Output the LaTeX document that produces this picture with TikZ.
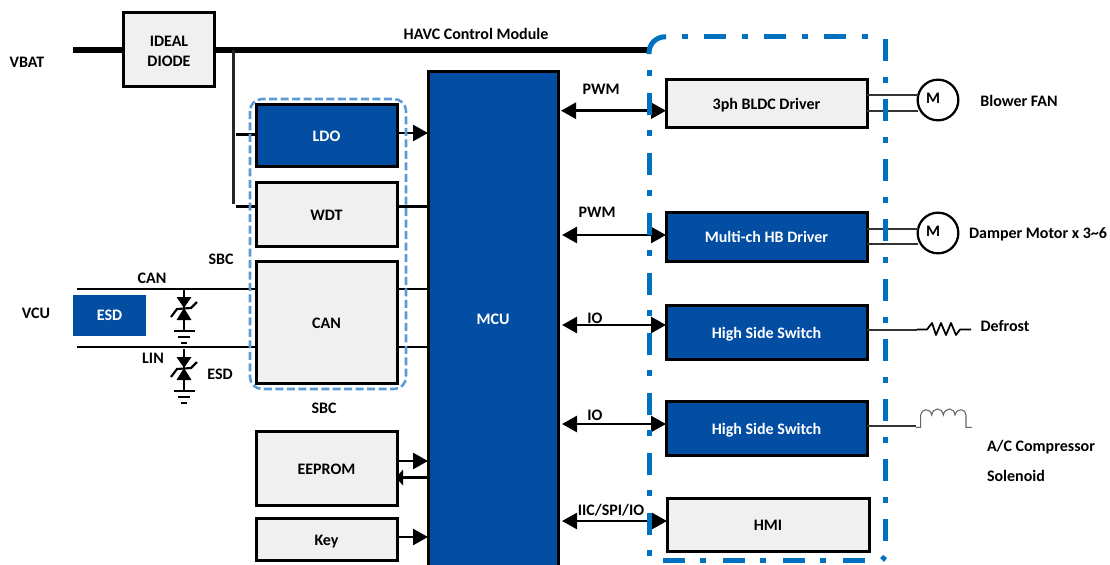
\documentclass[tikz,border=0pt]{standalone}
\usepackage{fontspec}
\setmainfont{Carlito}
\usetikzlibrary{arrows.meta}
\definecolor{bluebox}{HTML}{034EA2}
\definecolor{greybox}{HTML}{F0F0F0}
\definecolor{frameblue}{HTML}{0070C0}
\definecolor{sbcblue}{HTML}{5B9BD5}
\tikzset{
  x=0.75pt,y=-0.75pt,
  every node/.style={font=\fontsize{12}{14}\selectfont\bfseries,inner sep=0pt,outer sep=0pt},
  greyblock/.style={draw=black,line width=2.25pt,fill=greybox,text=black,align=center},
  blueblock/.style={draw=black,line width=2.25pt,fill=bluebox,text=white,align=center},
  lowtext/.style={text height=9.5pt,text depth=0pt},
  txt/.style={text=black},
  wire/.style={line width=1.9pt,black},
  thinwire/.style={line width=1.5pt,black!80},
  bus/.style={line width=3.8pt,black},
  tip/.style={-{Triangle[length=11.25pt,width=12pt]},line width=1.9pt,black},
  biarrow/.style={{Triangle[length=11.25pt,width=12pt]}-{Triangle[length=11.25pt,width=12pt]},line width=1.9pt,black},
  framepart/.style={line width=3.75pt,frameblue},
  zener/.pic={
    \draw[line width=1.6pt] (0,0) -- (0,42);
    \fill (-7.5,8) -- (7.5,8) -- (0,19) -- cycle;
    \fill (-7.5,31) -- (7.5,31) -- (0,19) -- cycle;
    \draw[line width=1.6pt] (-13,28) -- (-7,20) -- (7,19) -- (13,13);
    \draw[line width=1.6pt] (-10.5,42) -- (10.5,42);
    \draw[line width=1.6pt] (-6,48) -- (6,48);
    \draw[line width=1.6pt] (-3,54) -- (3,54);
  },
}
\begin{document}
\begin{tikzpicture}
\useasboundingbox (0,0) rectangle (1110,564);
\clip (0,0) rectangle (1110,564);

\coordinate (vbatend) at (73,50);
\coordinate (busend) at (649,50);
\coordinate (branch) at (233.5,50);
\coordinate (branchend) at (233.5,204);
\coordinate (stubA) at (236,134.5);
\coordinate (stubB) at (236,206.5);
\coordinate (canleft) at (77,289);
\coordinate (linleft) at (77,347);

\node[greyblock,minimum width=68.25pt,minimum height=55.5pt] (diode) at (169,49.5) {\rule{0pt}{10.5pt}IDEAL\\[0.5pt]DIODE};
\node[blueblock,minimum width=97.5pt,minimum height=372pt] (mcu) at (493,319) {MCU};

\node[blueblock,lowtext,minimum width=105.75pt,minimum height=47pt] (ldo) at (326.5,135.5) {LDO};
\node[greyblock,lowtext,minimum width=105.75pt,minimum height=48pt] (wdt) at (326.5,214) {WDT};
\node[greyblock,lowtext,minimum width=105.75pt,minimum height=91.5pt] (can) at (326.5,322) {CAN};
\node[greyblock,lowtext,minimum width=105.75pt,minimum height=55pt] (eeprom) at (326.5,468.5) {EEPROM};
\node[greyblock,lowtext,minimum width=105.75pt,minimum height=31.5pt] (key) at (326.5,539) {Key};

\node[greyblock,lowtext,minimum width=150.75pt,minimum height=36pt] (bldc) at (766.5,103) {3ph BLDC Driver};
\node[blueblock,lowtext,minimum width=150.75pt,minimum height=36.75pt] (hb) at (766.5,236.5) {Multi-ch HB Driver};
\node[blueblock,lowtext,minimum width=150.75pt,minimum height=40.5pt] (hs1) at (766.5,332.5) {High Side Switch};
\node[blueblock,lowtext,minimum width=150.75pt,minimum height=40.5pt] (hs2) at (766.5,428.5) {High Side Switch};
\node[greyblock,lowtext,minimum width=151.5pt,minimum height=39.75pt] (hmi) at (768,524.5) {HMI};

\node[draw=none,fill=bluebox,text=white,minimum width=54.75pt,minimum height=30.75pt] (esd) at (109.5,315.5) {ESD};

\node[draw=black,line width=1.7pt,circle,minimum size=30.5pt,fill=white] (m1) at (938,100) {};
\node[draw=black,line width=1.7pt,circle,minimum size=30.5pt,fill=white] (m2) at (938,233) {};
\node[txt] (m1t) at (933,98) {M};
\node[txt] (m2t) at (933,231.5) {M};

\draw[bus] (vbatend) -- (diode.west |- vbatend);
\draw[bus] (diode.east |- busend) -- (busend);
\draw[line width=1.9pt,black!85] (branch) -- (branchend);
\draw[wire] (stubA) -- (ldo.west |- stubA);
\draw[wire] (stubB) -- (wdt.west |- stubB);

\draw[wire] (canleft) -- (can.west |- canleft);
\draw[wire] (linleft) -- (can.west |- linleft);
\pic at (184,289) {zener};
\pic at (184,349) {zener};

\draw[tip] (ldo.east |- 0,133) -- (mcu.west |- 0,133);
\draw[wire] (wdt.east |- 0,206.5) -- (mcu.west |- 0,206.5);
\draw[wire] (can.east |- 0,289) -- (mcu.west |- 0,289);
\draw[wire] (can.east |- 0,347) -- (mcu.west |- 0,347);

\draw[tip] (eeprom.east |- 0,461) -- (mcu.west |- 0,461);
\draw[line width=1.9pt,black] (mcu.west |- 0,477.5) -- (eeprom.east |- 0,477.5);
\fill[black] (396,477.5) -- (403,469.5) -- (403,485.5) -- cycle;
\draw[tip] (key.east |- 0,537) -- (mcu.west |- 0,537);

\draw[biarrow] (561,110.7) -- (bldc.west |- 0,110.7);
\draw[biarrow] (562,235) -- (hb.west |- 0,235);
\draw[biarrow] (562,325) -- (hs1.west |- 0,325);
\draw[biarrow] (562,424) -- (hs2.west |- 0,424);
\draw[biarrow] (562,521) -- (hmi.west |- 0,521);

\draw[thinwire] (bldc.east |- 0,95) -- (m1.west |- 0,95);
\draw[thinwire] (bldc.east |- 0,110.7) -- (m1.west |- 0,110.7);
\draw[thinwire] (hb.east |- 0,229) -- (m2.west |- 0,229);
\draw[thinwire] (hb.east |- 0,244) -- (m2.west |- 0,244);
\draw[thinwire] (hs1.east |- 0,330) -- (917,330);
\draw[thinwire] (hs2.east |- 0,426) -- (916,426);
\draw[line width=1.3pt,black,line join=round] (917,329.5) -- (927,329.5) -- (932,323) -- (936,335) -- (941,323) -- (946,335) -- (951,323) -- (956,335) -- (960,329.5) -- (971,329.5);
\draw[line width=0.8pt,black!60] (916,427.3) -- (920.7,427.3) -- (920.7,415)
  .. controls (921,409) and (930,407) .. (931.7,415)
  .. controls (933,407) and (942,407) .. (943.3,415)
  .. controls (945,407) and (954,407) .. (955,415)
  .. controls (957,407) and (966,409) .. (966,415)
  -- (966,427.3) -- (972,427.3);

\draw[sbcblue,line width=1.9pt,dash pattern=on 6pt off 2.6pt,rounded corners=9pt] (250,99) rectangle (406,389);

\draw[framepart,rounded corners=12pt] (649,54) -- (649,36.8) -- (666,36.8);
\draw[framepart,dash pattern=on 4.5pt off 12.75pt on 16.5pt off 11.25pt] (649,70) -- (649,556);
\draw[framepart,dash pattern=on 4.5pt off 12pt on 16.5pt off 12pt] (682,36.8) -- (868,36.8);
\draw[framepart,dash pattern=on 16.5pt off 12pt on 4.5pt off 12pt] (885,39) -- (885,541);
\draw[framepart,dash pattern=on 16.5pt off 11.25pt on 4.5pt off 12.75pt] (663,560.7) -- (865,560.7);
\fill[frameblue] (880,558) -- (883,555) -- (887,558) -- (884,562) -- cycle;

\node[txt] (l1) at (27,62) {VBAT};
\node[txt] (l2) at (476,34) {HAVC Control Module};
\node[txt] (l3) at (601,89) {PWM};
\node[txt] (l4) at (597,212) {PWM};
\node[txt] (l5) at (595,318) {IO};
\node[txt] (l6) at (595,415) {IO};
\node[txt] (l7) at (611,510) {IIC/SPI/IO};
\node[txt] (l8) at (221,259) {SBC};
\node[txt] (l9) at (324,408) {SBC};
\node[txt] (l10) at (152,278) {CAN};
\node[txt] (l11) at (153,358) {LIN};
\node[txt] (l12) at (220,374) {ESD};
\node[txt] (l13) at (36,313) {VCU};
\node[txt] (l14) at (1019,101) {Blower FAN};
\node[txt] (l15) at (1038,234) {Damper Motor x 3{\char"7E}6};
\node[txt] (l16) at (1005,326) {Defrost};
\node[txt,anchor=west] (l17) at (987,447.5) {A/C Compressor};
\node[txt,anchor=west] (l18) at (987,476) {Solenoid};
\end{tikzpicture}
\end{document}
